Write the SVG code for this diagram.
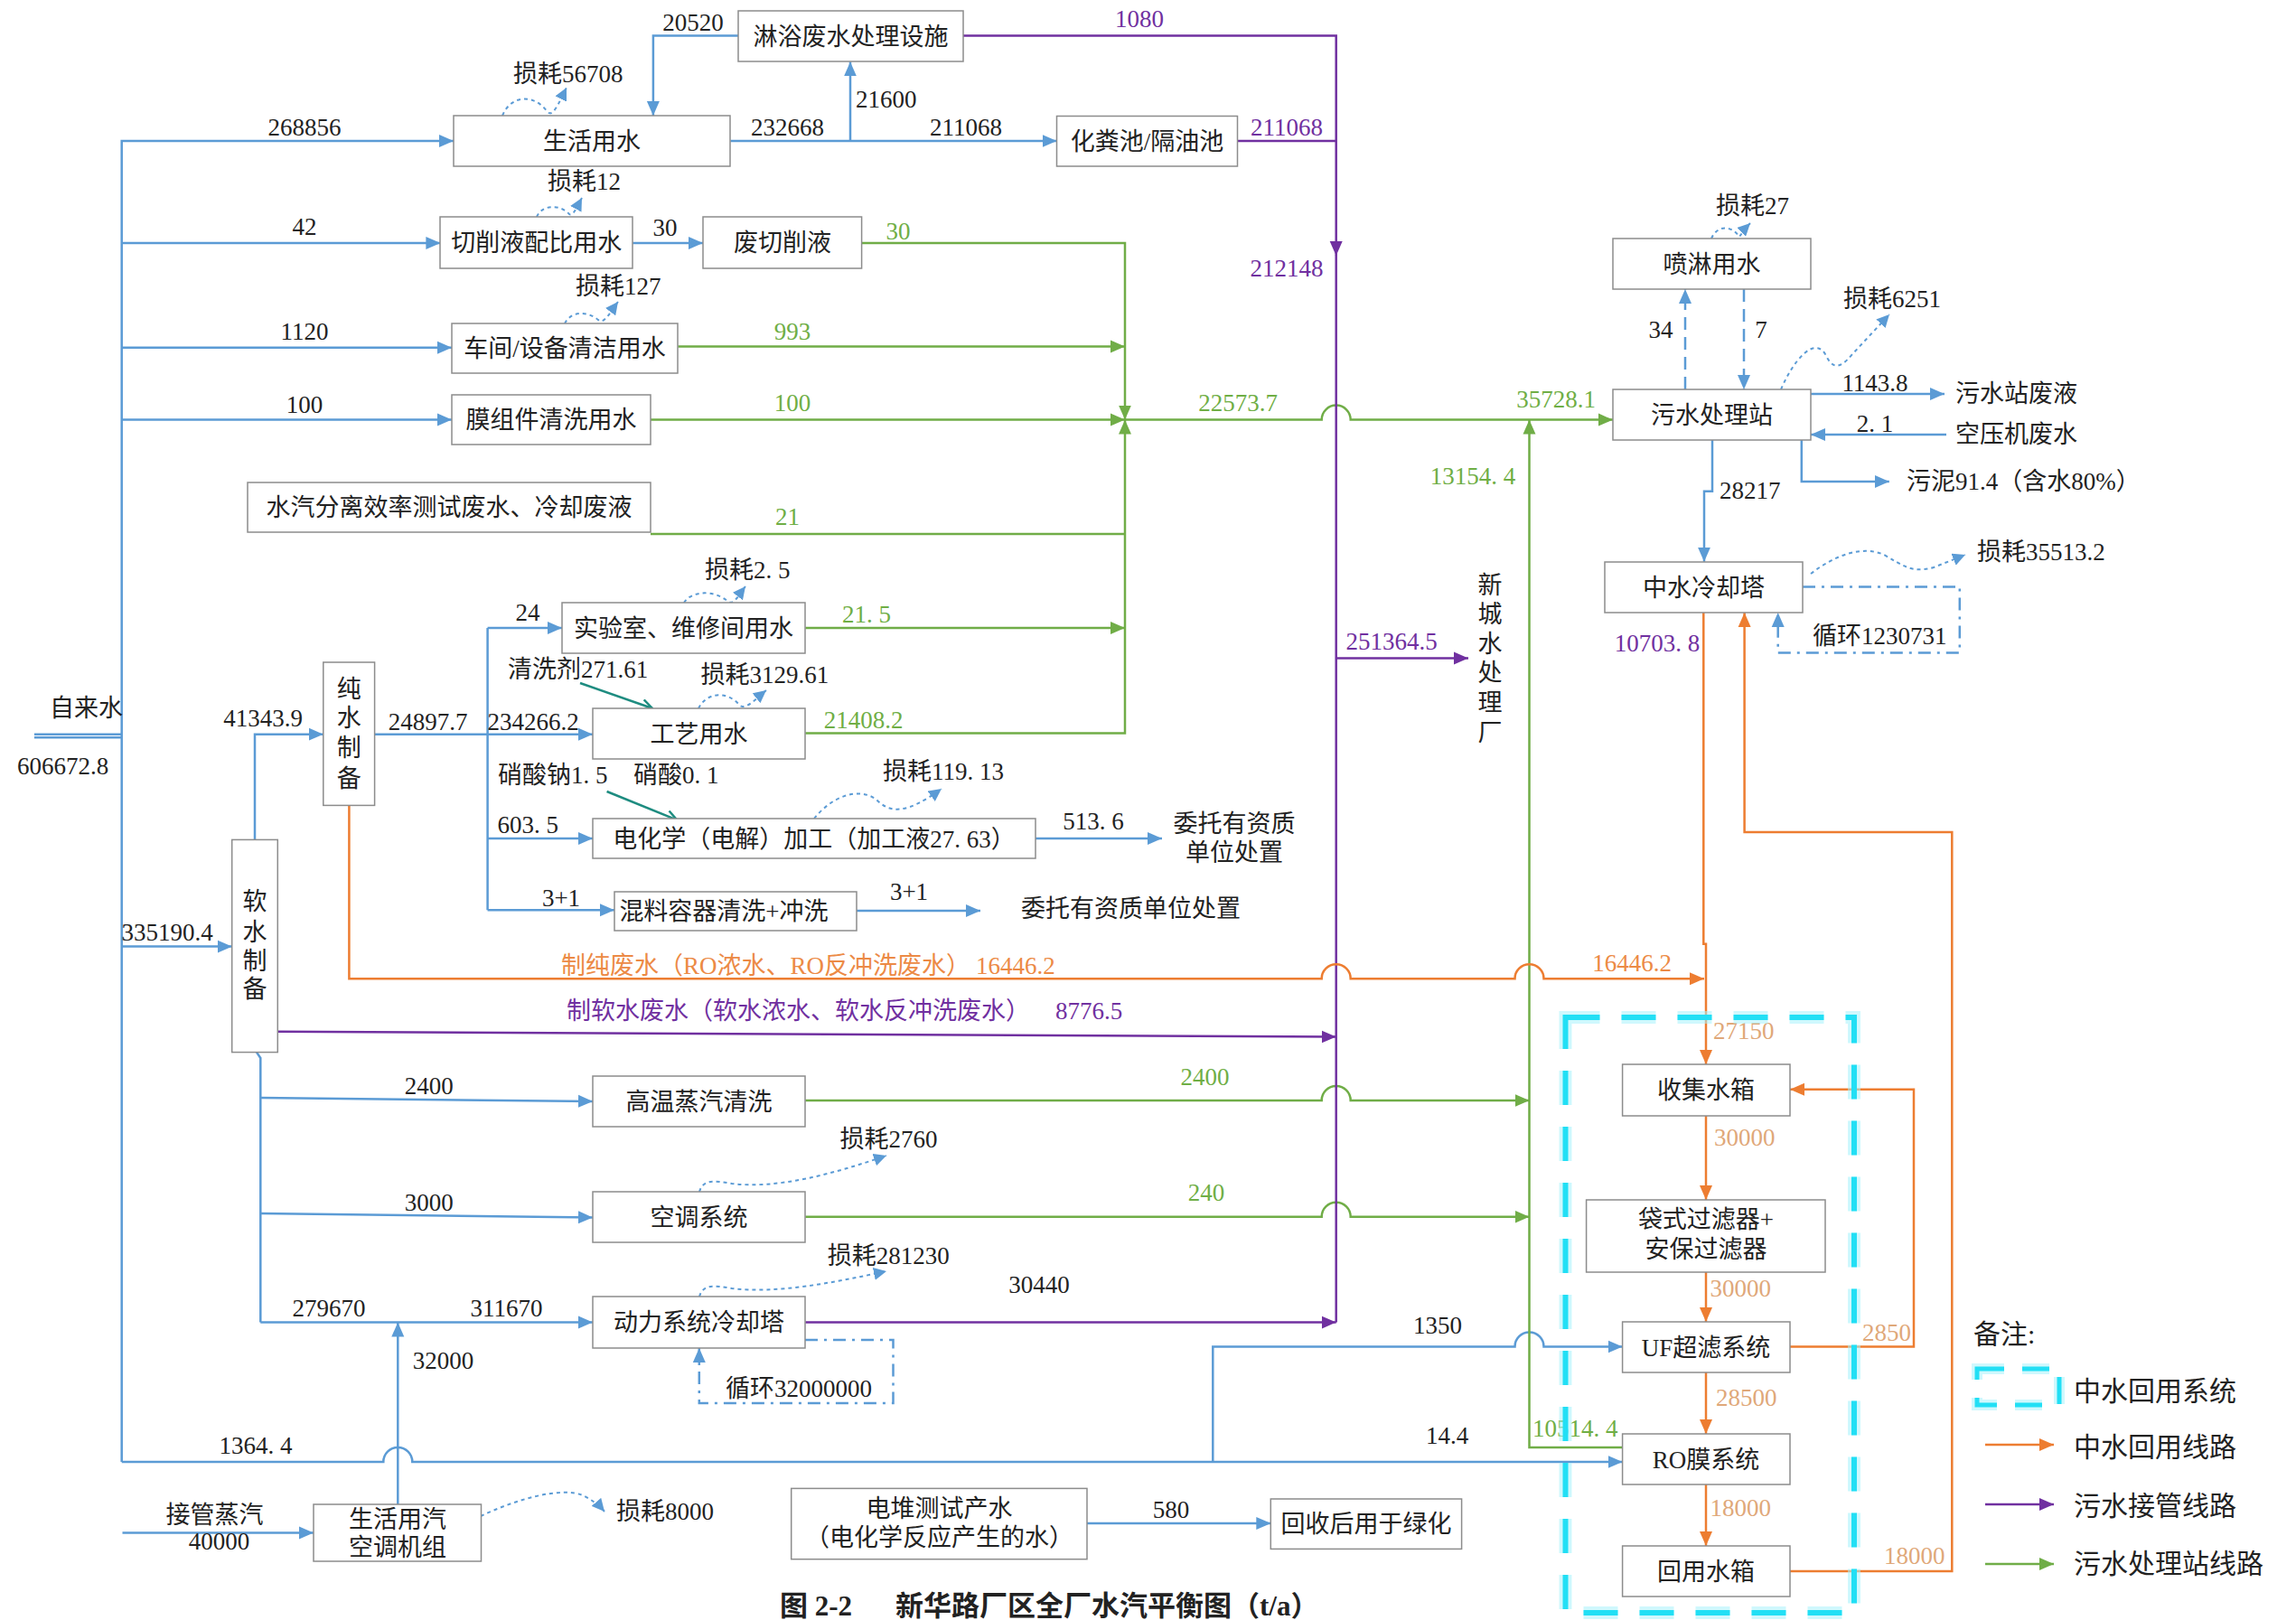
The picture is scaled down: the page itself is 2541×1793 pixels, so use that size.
<svg xmlns="http://www.w3.org/2000/svg" width="2541" height="1793" viewBox="0 0 2541 1793">
<defs>
<style>
.box{fill:#fff;stroke:#8c8c8c;stroke-width:1.5}
.t{font-family:"Liberation Serif","Noto Sans CJK SC",serif;font-size:27px;fill:#222}
.c{text-anchor:middle}
.tg{fill:#6fae45}.tp{fill:#7030a0}.to{fill:#ec8a45}.tt{fill:#dfa879}
.ln{fill:none;stroke-width:2.5}
.b{stroke:#5b9bd5}.g{stroke:#70ad47}.p{stroke:#7030a0}.o{stroke:#ed7d31}
.loss{fill:none;stroke:#5b9bd5;stroke-width:2;stroke-dasharray:4 4}
.dd{stroke-dasharray:14 7 3 7}
.da{stroke-dasharray:14 8}
.teal{fill:none;stroke:#1e8c80;stroke-width:2.5}
</style>
<marker id="ab" viewBox="0 0 16 16" refX="16" refY="8" markerWidth="16" markerHeight="16" markerUnits="userSpaceOnUse" orient="auto"><path d="M0,1 L16,8 L0,15 z" fill="#5b9bd5"/></marker>
<marker id="ag" viewBox="0 0 16 16" refX="16" refY="8" markerWidth="16" markerHeight="16" markerUnits="userSpaceOnUse" orient="auto"><path d="M0,1 L16,8 L0,15 z" fill="#70ad47"/></marker>
<marker id="ap" viewBox="0 0 16 16" refX="16" refY="8" markerWidth="16" markerHeight="16" markerUnits="userSpaceOnUse" orient="auto"><path d="M0,1 L16,8 L0,15 z" fill="#7030a0"/></marker>
<marker id="ao" viewBox="0 0 16 16" refX="16" refY="8" markerWidth="16" markerHeight="16" markerUnits="userSpaceOnUse" orient="auto"><path d="M0,1 L16,8 L0,15 z" fill="#ed7d31"/></marker>
<marker id="al" viewBox="0 0 14 14" refX="14" refY="7" markerWidth="14" markerHeight="14" markerUnits="userSpaceOnUse" orient="auto"><path d="M0,0 L14,7 L0,14 z" fill="#5b9bd5"/></marker>
<marker id="at" viewBox="0 0 14 14" refX="13" refY="7" markerWidth="14" markerHeight="14" markerUnits="userSpaceOnUse" orient="auto"><path d="M1,1 L13,7 L1,13" fill="none" stroke="#1e8c80" stroke-width="2.5"/></marker>
</defs>
<rect width="2541" height="1793" fill="#fff"/>

<g id="connectors">
<!-- blue supply -->
<path class="ln b" d="M37.9,812.7 L134.7,812.7 M37.9,816.3 L134.7,816.3"/>
<path class="ln b" d="M134.7,1618 L134.7,156 L502,156" marker-end="url(#ab)"/>
<path class="ln b" d="M134.7,269 L487.4,269" marker-end="url(#ab)"/>
<path class="ln b" d="M134.7,384.7 L500,384.7" marker-end="url(#ab)"/>
<path class="ln b" d="M134.7,464.6 L500,464.6" marker-end="url(#ab)"/>
<path class="ln b" d="M134.7,1047.6 L256.7,1047.6" marker-end="url(#ab)"/>
<path class="ln b" d="M817,39.5 L722.9,39.5 L722.9,128" marker-end="url(#ab)"/>
<path class="ln b" d="M808.4,156 L1169.5,156" marker-end="url(#ab)"/>
<path class="ln b" d="M941,156 L941,68.4" marker-end="url(#ab)"/>
<path class="ln b" d="M700.2,269 L778,269" marker-end="url(#ab)"/>
<path class="ln b" d="M282,929.4 L282,812.7 L357.8,812.7" marker-end="url(#ab)"/>
<path class="ln b" d="M414.6,812.7 L656,812.7" marker-end="url(#ab)"/>
<path class="ln b" d="M539.6,694.9 L539.6,1007.3"/>
<path class="ln b" d="M539.6,694.9 L622,694.9" marker-end="url(#ab)"/>
<path class="ln b" d="M539.6,928 L656,928" marker-end="url(#ab)"/>
<path class="ln b" d="M539.6,1007.3 L680,1007.3" marker-end="url(#ab)"/>
<path class="ln b" d="M1146,928 L1286,928" marker-end="url(#ab)"/>
<path class="ln b" d="M948,1008 L1085,1008" marker-end="url(#ab)"/>
<path class="ln b" d="M284,1164.6 L288.3,1171 L288.3,1463.6"/>
<path class="ln b" d="M288.3,1215 L656,1219" marker-end="url(#ab)"/>
<path class="ln b" d="M288.3,1343 L656,1347.5" marker-end="url(#ab)"/>
<path class="ln b" d="M288.3,1463.6 L656,1463.6" marker-end="url(#ab)"/>
<path class="ln b" d="M440.3,1665 L440.3,1463.6" marker-end="url(#ab)"/>
<path class="ln b" d="M134.7,1618 L424.3,1618 A16,16 0 0 1 456.3,1618 L1795.6,1618" marker-end="url(#ab)"/>
<path class="ln b" d="M1342.3,1618 L1342.3,1490.5 L1676.5,1490.5 A16,16 0 0 1 1708.5,1490.5 L1795.6,1490.5" marker-end="url(#ab)"/>
<path class="ln b" d="M135.5,1696.6 L347,1696.6" marker-end="url(#ab)"/>
<path class="ln b" d="M1203,1686 L1406.3,1686" marker-end="url(#ab)"/>
<path class="ln b da" d="M1865,431 L1865,320" marker-end="url(#ab)"/>
<path class="ln b da" d="M1930,320 L1930,431" marker-end="url(#ab)"/>
<path class="ln b" d="M2004,436 L2152,436" marker-end="url(#ab)"/>
<path class="ln b" d="M2154,481 L2004,481" marker-end="url(#ab)"/>
<path class="ln b" d="M1993.8,487 L1993.8,533 L2090.8,533" marker-end="url(#ab)"/>
<path class="ln b" d="M1895,487 L1895,543.7 L1886,543.7 L1886,621.7" marker-end="url(#ab)"/>
<path class="ln b dd" d="M1995,649.4 L2168.8,649.4 L2168.8,722.6 L1967.7,722.6 L1967.7,678" marker-end="url(#ab)"/>
<path class="ln b dd" d="M891,1483 L988.5,1483 L988.5,1552.9 L773.8,1552.9 L773.8,1492" marker-end="url(#ab)"/>
<!-- teal additive arrows -->
<path class="teal" d="M642,756 L722,784" marker-end="url(#at)"/>
<path class="teal" d="M671.6,876 L749.4,907.6" marker-end="url(#at)"/>
<!-- green -->
<path class="ln g" d="M953.6,269 L1245,269 L1245,464.6" marker-end="url(#ag)"/>
<path class="ln g" d="M750.3,383.5 L1245,383.5" marker-end="url(#ag)"/>
<path class="ln g" d="M720,464.6 L1245,464.6" marker-end="url(#ag)"/>
<path class="ln g" d="M720,591 L1245,591"/>
<path class="ln g" d="M891.3,694.9 L1245,694.9" marker-end="url(#ag)"/>
<path class="ln g" d="M891.3,811.5 L1245,811.5 L1245,464.6" marker-end="url(#ag)"/>
<path class="ln g" d="M1245,464.6 L1462.7,464.6 A16,16 0 0 1 1494.7,464.6 L1785,464.6" marker-end="url(#ag)"/>
<path class="ln g" d="M1795.6,1602 L1692.5,1602 L1692.5,464.6" marker-end="url(#ag)"/>
<path class="ln g" d="M891.3,1218 L1462.7,1218 A16,16 0 0 1 1494.7,1218 L1692.5,1218" marker-end="url(#ag)"/>
<path class="ln g" d="M891.3,1346.7 L1462.7,1346.7 A16,16 0 0 1 1494.7,1346.7 L1692.5,1346.7" marker-end="url(#ag)"/>
<!-- purple -->
<path class="ln p" d="M1066,39.5 L1478.7,39.5 L1478.7,283" marker-end="url(#ap)"/>
<path class="ln p" d="M1478.7,282.7 L1478.7,1463.6"/>
<path class="ln p" d="M1369.7,156 L1478.7,156"/>
<path class="ln p" d="M1478.7,728.5 L1625,728.5" marker-end="url(#ap)"/>
<path class="ln p" d="M307.3,1141.7 L1478.7,1147.6" marker-end="url(#ap)"/>
<path class="ln p" d="M891.3,1463.6 L1478.7,1463.6" marker-end="url(#ap)"/>
<!-- orange -->
<path class="ln o" d="M386.4,891.4 L386.4,1083.2 L1462.7,1083.2 A16,16 0 0 1 1494.7,1083.2 L1676.5,1083.2 A16,16 0 0 1 1708.5,1083.2 L1886,1083.2" marker-end="url(#ao)"/>
<path class="ln o" d="M1885.3,678 L1885.3,1044.8 L1888,1044.8 L1888,1178" marker-end="url(#ao)"/>
<path class="ln o" d="M1888,1235 L1888,1328" marker-end="url(#ao)"/>
<path class="ln o" d="M1888,1408 L1888,1463" marker-end="url(#ao)"/>
<path class="ln o" d="M1888,1519 L1888,1587" marker-end="url(#ao)"/>
<path class="ln o" d="M1888,1643 L1888,1711" marker-end="url(#ao)"/>
<path class="ln o" d="M1981,1490.5 L2118,1490.5 L2118,1205.7 L1981,1205.7" marker-end="url(#ao)"/>
<path class="ln o" d="M1981,1739 L2160.3,1739 L2160.3,921 L1930.6,921 L1930.6,678" marker-end="url(#ao)"/>
<!-- losses -->
<path class="loss" d="M556,128 C566,104 592,104 606,124 C612,130 618,115 627,97" marker-end="url(#al)"/>
<path class="loss" d="M594,240 C600,226 620,226 630,237 C634,240 638,230 644,219" marker-end="url(#al)"/>
<path class="loss" d="M625,358 C632,344 650,344 662,354 C668,360 675,346 684,334" marker-end="url(#al)"/>
<path class="loss" d="M757,667 C765,654 790,652 806,666 C812,670 818,658 825,649" marker-end="url(#al)"/>
<path class="loss" d="M773,784 C782,766 805,764 819,781 C826,786 838,772 848,764" marker-end="url(#al)"/>
<path class="loss" d="M901,906 C920,882 950,870 970,885 C985,900 1002,902 1042,873" marker-end="url(#al)"/>
<path class="loss" d="M774,1319 C778,1306 788,1306 810,1310 C860,1316 920,1300 981,1279" marker-end="url(#al)"/>
<path class="loss" d="M774,1435 C778,1422 788,1422 810,1426 C860,1432 920,1420 981,1407" marker-end="url(#al)"/>
<path class="loss" d="M532,1678 C570,1660 620,1645 645,1655 C655,1660 663,1666 669,1673" marker-end="url(#al)"/>
<path class="loss" d="M1894,264 C1900,250 1915,248 1925,262 C1928,258 1932,252 1937,247" marker-end="url(#al)"/>
<path class="loss" d="M1971,431 C1985,398 2008,372 2020,392 C2028,408 2035,410 2050,392 L2091,348" marker-end="url(#al)"/>
<path class="loss" d="M2004,635 C2030,615 2060,603 2085,614 C2105,625 2115,635 2140,628 L2175,614" marker-end="url(#al)"/>
</g>

<g id="labels" class="t">
<text x="568" y="91">损耗56708</text>
<text x="606" y="210">损耗12</text>
<text x="637" y="326">损耗127</text>
<text class="c" x="337" y="150">268856</text>
<text class="c" x="337" y="260">42</text>
<text class="c" x="337" y="376">1120</text>
<text class="c" x="337" y="457">100</text>
<text class="c" x="767" y="34">20520</text>
<text x="947" y="119">21600</text>
<text class="c" x="871.5" y="150">232668</text>
<text class="c" x="1069" y="150">211068</text>
<text class="c" x="736" y="261">30</text>
<text class="c tp" x="1261" y="30">1080</text>
<text class="c tp" x="1424" y="150">211068</text>
<text class="c tp" x="1424" y="306">212148</text>
<text class="c tg" x="994" y="265">30</text>
<text class="c tg" x="877" y="376">993</text>
<text class="c tg" x="877" y="455">100</text>
<text class="c tg" x="871.5" y="581">21</text>
<text class="c tg" x="1370" y="455">22573.7</text>
<text class="c tg" x="1722" y="451">35728.1</text>
<text class="c tg" x="1630" y="536">13154. 4</text>
<text class="c" x="1838" y="374">34</text>
<text class="c" x="1949" y="374">7</text>
<text x="1899" y="237">损耗27</text>
<text x="2040" y="340">损耗6251</text>
<text class="c" x="2075" y="433">1143.8</text>
<text x="2164" y="445">污水站废液</text>
<text class="c" x="2075" y="478">2. 1</text>
<text x="2164" y="490">空压机废水</text>
<text x="2110" y="542">污泥91.4（含水80%）</text>
<text x="1903" y="552">28217</text>
<text x="2188" y="620">损耗35513.2</text>
<text x="2006" y="713">循环1230731</text>
<text class="c tp" x="1834" y="721">10703. 8</text>
<text class="c tp" x="1540" y="719">251364.5</text>
<text class="c" x="1649" y="657">新</text>
<text class="c" x="1649" y="689">城</text>
<text class="c" x="1649" y="722">水</text>
<text class="c" x="1649" y="754">处</text>
<text class="c" x="1649" y="787">理</text>
<text class="c" x="1649" y="820">厂</text>
<text class="c" x="584" y="687">24</text>
<text class="c" x="291" y="804">41343.9</text>
<text class="c" x="473.6" y="808">24897.7</text>
<text class="c" x="590" y="808">234266.2</text>
<text x="562" y="750">清洗剂271.61</text>
<text x="551" y="867">硝酸钠1. 5</text>
<text x="701" y="867">硝酸0. 1</text>
<text x="550.5" y="922">603. 5</text>
<text class="c" x="621" y="1003">3+1</text>
<text x="780" y="640">损耗2. 5</text>
<text class="c tg" x="959" y="689">21. 5</text>
<text x="775.5" y="756">损耗3129.61</text>
<text class="c tg" x="955.6" y="806">21408.2</text>
<text x="977" y="863">损耗119. 13</text>
<text class="c" x="1210" y="918">513. 6</text>
<text class="c" x="1366" y="921">委托有资质</text>
<text class="c" x="1366" y="953">单位处置</text>
<text class="c" x="1006" y="996">3+1</text>
<text x="1130" y="1015">委托有资质单位处置</text>
<text class="to" x="621" y="1078">制纯废水（RO浓水、RO反冲洗废水）</text>
<text class="to" x="1080" y="1078">16446.2</text>
<text class="c to" x="1806" y="1075">16446.2</text>
<text class="tp" x="627" y="1128">制软水废水（软水浓水、软水反冲洗废水）</text>
<text class="tp" x="1168" y="1128">8776.5</text>
<text class="c" x="185" y="1041">335190.4</text>
<text x="19" y="857">606672.8</text>
<text x="55" y="793">自来水</text>
<text class="c" x="474.7" y="1211">2400</text>
<text class="c" x="474.7" y="1340">3000</text>
<text class="c" x="364" y="1457">279670</text>
<text class="c" x="560.6" y="1457">311670</text>
<text x="456.7" y="1515">32000</text>
<text class="c" x="283" y="1609">1364. 4</text>
<text class="c" x="237.6" y="1686">接管蒸汽</text>
<text class="c" x="242.6" y="1715">40000</text>
<text x="682" y="1682">损耗8000</text>
<text x="929.6" y="1270">损耗2760</text>
<text x="915.7" y="1399">损耗281230</text>
<text class="c" x="1150" y="1431">30440</text>
<text x="803" y="1546">循环32000000</text>
<text class="c tg" x="1333.6" y="1201">2400</text>
<text class="c tg" x="1335" y="1329">240</text>
<text class="c" x="1591" y="1476">1350</text>
<text class="c" x="1601.6" y="1598">14.4</text>
<text class="tg" x="1696" y="1590">10514. 4</text>
<text class="c" x="1296" y="1680">580</text>
<text class="tt" x="1896" y="1150">27150</text>
<text class="tt" x="1897" y="1268">30000</text>
<text class="tt" x="1892.6" y="1434.5">30000</text>
<text class="tt" x="1899" y="1555.5">28500</text>
<text class="tt" x="1892.6" y="1678.4">18000</text>
<text class="tt" x="2061" y="1484">2850</text>
<text class="tt" x="2085" y="1731">18000</text>
</g>

<g id="n-shower"><rect class="box" x="817" y="12" width="249" height="56"/><text class="t c" x="941.5" y="50">淋浴废水处理设施</text></g>
<g id="n-domestic"><rect class="box" x="502" y="128" width="306" height="56"/><text class="t c" x="655" y="166">生活用水</text></g>
<g id="n-septic"><rect class="box" x="1169.5" y="128.5" width="200" height="55.5"/><text class="t c" x="1269.6" y="166">化粪池/隔油池</text></g>
<g id="n-cutting-mix"><rect class="box" x="487" y="240" width="213" height="57"/><text class="t c" x="593.7" y="278">切削液配比用水</text></g>
<g id="n-waste-cutting"><rect class="box" x="778" y="240" width="175.6" height="57"/><text class="t c" x="866" y="278">废切削液</text></g>
<g id="n-workshop"><rect class="box" x="500" y="358" width="250" height="55"/><text class="t c" x="625" y="395">车间/设备清洁用水</text></g>
<g id="n-membrane"><rect class="box" x="500" y="437" width="220" height="55"/><text class="t c" x="610" y="474">膜组件清洗用水</text></g>
<g id="n-vapor"><rect class="box" x="274" y="534" width="446" height="55"/><text class="t c" x="497" y="571">水汽分离效率测试废水、冷却废液</text></g>
<g id="n-lab"><rect class="box" x="622" y="667" width="269" height="56"/><text class="t c" x="756.5" y="705">实验室、维修间用水</text></g>
<g id="n-process"><rect class="box" x="656" y="784" width="235" height="56"/><text class="t c" x="773.5" y="822">工艺用水</text></g>
<g id="n-ecm"><rect class="box" x="656" y="906" width="490" height="44"/><text class="t c" x="901" y="938">电化学（电解）加工（加工液27. 63）</text></g>
<g id="n-mixing"><rect class="box" x="680" y="987" width="268" height="43"/><text class="t c" x="801" y="1018">混料容器清洗+冲洗</text></g>
<g id="n-pure"><rect class="box" x="357.8" y="733" width="56.8" height="158.4"/>
<text class="t c" x="386.2" y="772">纯</text><text class="t c" x="386.2" y="804">水</text><text class="t c" x="386.2" y="837">制</text><text class="t c" x="386.2" y="871">备</text></g>
<g id="n-soft"><rect class="box" x="256.7" y="929.4" width="50.6" height="235.2"/>
<text class="t c" x="282" y="1007">软</text><text class="t c" x="282" y="1041">水</text><text class="t c" x="282" y="1073">制</text><text class="t c" x="282" y="1104">备</text></g>
<g id="n-steam-clean"><rect class="box" x="656" y="1191" width="235" height="56"/><text class="t c" x="773.5" y="1229">高温蒸汽清洗</text></g>
<g id="n-aircon"><rect class="box" x="656" y="1319" width="235" height="56"/><text class="t c" x="773.5" y="1357">空调系统</text></g>
<g id="n-power-tower"><rect class="box" x="656" y="1435" width="235" height="57"/><text class="t c" x="773.5" y="1473">动力系统冷却塔</text></g>
<g id="n-steam-unit"><rect class="box" x="347" y="1665" width="185.5" height="63"/><text class="t c" x="440" y="1691">生活用汽</text><text class="t c" x="440" y="1722">空调机组</text></g>
<g id="n-stack"><rect class="box" x="875.7" y="1647.4" width="327.3" height="78.3"/><text class="t c" x="1039.5" y="1679">电堆测试产水</text><text class="t c" x="1039.5" y="1711">（电化学反应产生的水）</text></g>
<g id="n-green"><rect class="box" x="1406.3" y="1659" width="211.3" height="55.4"/><text class="t c" x="1512" y="1696">回收后用于绿化</text></g>
<g id="n-spray"><rect class="box" x="1785" y="264" width="219" height="56"/><text class="t c" x="1894.5" y="302">喷淋用水</text></g>
<g id="n-wwtp"><rect class="box" x="1785" y="431" width="219" height="56"/><text class="t c" x="1894.5" y="469">污水处理站</text></g>
<g id="n-reclaim-tower"><rect class="box" x="1776" y="622" width="219" height="56"/><text class="t c" x="1885.5" y="660">中水冷却塔</text></g>
<g id="n-collect"><rect class="box" x="1795.6" y="1178" width="185.4" height="57"/><text class="t c" x="1888" y="1216">收集水箱</text></g>
<g id="n-bagfilter"><rect class="box" x="1755.6" y="1328" width="264.4" height="80"/><text class="t c" x="1888" y="1359">袋式过滤器+</text><text class="t c" x="1888" y="1392">安保过滤器</text></g>
<g id="n-uf"><rect class="box" x="1795.6" y="1463" width="185.4" height="56"/><text class="t c" x="1888" y="1501">UF超滤系统</text></g>
<g id="n-ro"><rect class="box" x="1795.6" y="1587" width="185.4" height="56"/><text class="t c" x="1888" y="1625">RO膜系统</text></g>
<g id="n-reuse"><rect class="box" x="1795.6" y="1711" width="185.4" height="56"/><text class="t c" x="1888" y="1749">回用水箱</text></g>

<g id="reclaim-system">
<rect x="1732.5" y="1126" width="319.5" height="659" fill="none" stroke="#a8f2fb" stroke-width="14" stroke-dasharray="38 24" opacity="0.55"/>
<rect x="1732.5" y="1126" width="319.5" height="659" fill="none" stroke="#22dff5" stroke-width="6" stroke-dasharray="38 24"/>
</g>

<g id="legend" class="t" style="font-size:30px">
<text x="2184" y="1487">备注:</text>
<rect x="2188" y="1515" width="91" height="40" fill="none" stroke="#a8f2fb" stroke-width="12" stroke-dasharray="30 20" opacity="0.55"/>
<rect x="2188" y="1515" width="91" height="40" fill="none" stroke="#22dff5" stroke-width="5" stroke-dasharray="30 20"/>
<text x="2295" y="1550">中水回用系统</text>
<path class="ln o" d="M2197,1599 L2273,1599" marker-end="url(#ao)"/>
<text x="2295" y="1612">中水回用线路</text>
<path class="ln p" d="M2197,1665 L2273,1665" marker-end="url(#ap)"/>
<text x="2295" y="1677">污水接管线路</text>
<path class="ln g" d="M2197,1731 L2273,1731" marker-end="url(#ag)"/>
<text x="2295" y="1741">污水处理站线路</text>
</g>

<g id="title" class="t" style="font-size:31px;font-weight:bold">
<text x="863" y="1788">图 2-2</text>
<text x="991" y="1788">新华路厂区全厂水汽平衡图（t/a）</text>
</g>
</svg>
